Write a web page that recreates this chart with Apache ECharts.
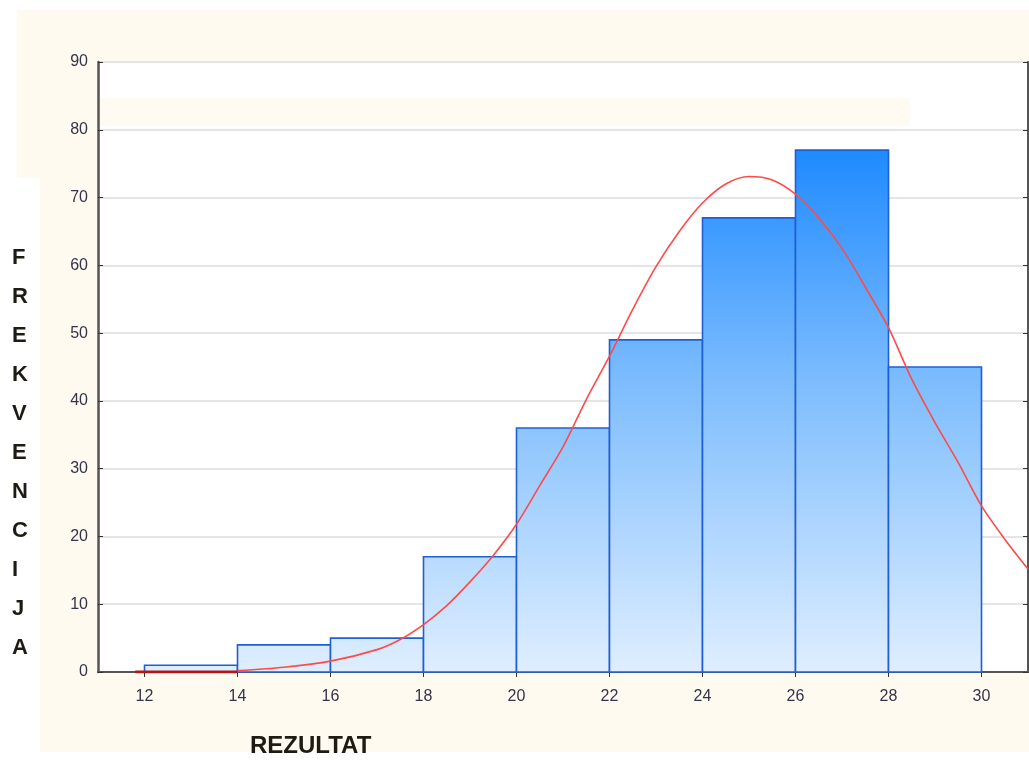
<!DOCTYPE html>
<html>
<head>
<meta charset="utf-8">
<style>
  html, body { margin: 0; padding: 0; background: #fff; }
  #chart { width: 1029px; height: 763px; }
</style>
<script src="https://cdn.jsdelivr.net/npm/echarts@6/dist/echarts.min.js"></script>
</head>
<body>
<div id="chart"></div>
<script>
// ===== Histogram data =====
const binStart = [12, 14, 16, 18, 20, 22, 24, 26, 28];
const binEnd   = [14, 16, 18, 20, 22, 24, 26, 28, 30];
const counts   = [1, 4, 5, 17, 36, 49, 67, 77, 45];

// fitted curve
const curveX = [14, 15, 16, 17, 17.5, 18, 18.5, 19, 19.5, 20, 20.5, 21, 21.5, 22, 22.5, 23,
                23.5, 24, 24.5, 25, 25.5, 26, 26.5, 27, 27.5, 28, 28.5, 29, 29.5, 30, 30.5, 31];
const curveY = [0.2, 0.7, 1.6, 3.3, 4.8, 7.0, 9.8, 13.3, 17.2, 21.8, 27.5, 33.2, 40.2, 46.6, 53.5, 59.8,
                65.0, 69.2, 72.0, 73.1, 72.6, 70.5, 67.0, 62.5, 56.8, 50.8, 43.2, 36.8, 30.9, 24.5, 19.6, 15.2];
const tailX = [11.8, 14];
const tailY = [0, 0];

const xTicks = [12, 14, 16, 18, 20, 22, 24, 26, 28, 30];
const yName = ['F', 'R', 'E', 'K', 'V', 'E', 'N', 'C', 'I', 'J', 'A'];

function zip(a, b) {
  return a.map((v, i) => [v, b[i]]);
}

const chart = echarts.init(document.getElementById('chart'));

const frame = { lineStyle: { color: '#555', width: 2 } };
const labelStyle = { color: '#34344a', fontSize: 16, fontFamily: 'Liberation Sans, Arial, sans-serif' };

const barFill = new echarts.graphic.LinearGradient(0, 140, 0, 672, [
  { offset: 0, color: '#1b88ff' },
  { offset: 0.45, color: '#7cbcfd' },
  { offset: 1, color: '#dfeeff' }
], true);

const option = {
  backgroundColor: '#fff',
  animation: false,
  graphic: [
    { type: 'rect', z: -10, shape: { x: 17, y: 10, width: 1012, height: 168 }, style: { fill: '#fffaf0' } },
    { type: 'rect', z: -10, shape: { x: 40, y: 178, width: 989, height: 574 }, style: { fill: '#fffaf0' } },
    { type: 'rect', z: 1, shape: { x: 100, y: 98, width: 810, height: 28 }, style: { fill: '#fffbf3' } },
    {
      type: 'text', left: 12, top: 238,
      style: {
        text: yName.join('\n'), fill: '#1e1a14', lineHeight: 39, align: 'center',
        font: 'bold 22px "Liberation Sans", Arial, sans-serif', width: 26
      }
    },
    {
      type: 'text', left: 250, top: 734,
      style: { text: 'REZULTAT', fill: '#1e1a14', font: 'bold 24px "Liberation Sans", Arial, sans-serif' }
    }
  ],
  grid: { left: 98, right: 1, top: 62, bottom: 91, show: true, backgroundColor: '#fff', borderWidth: 0 },
  xAxis: [
    {
      type: 'value', min: 11, max: 31, position: 'bottom',
      axisLine: frame,
      axisTick: { inside: true, length: 5, customValues: xTicks, lineStyle: { color: '#333' } },
      axisLabel: Object.assign({ margin: 17, customValues: xTicks }, labelStyle),
      splitLine: { show: false }
    },
    {
      type: 'value', min: 11, max: 31, position: 'top',
      axisLine: frame,
      axisTick: { inside: true, length: 5, customValues: xTicks, lineStyle: { color: '#333' } },
      axisLabel: { show: false },
      splitLine: { show: false }
    }
  ],
  yAxis: [
    {
      type: 'value', min: 0, max: 90, interval: 10, position: 'left',
      axisLine: { show: true, lineStyle: { color: '#555', width: 2.5 } },
      axisTick: { show: true, inside: true, length: 5, lineStyle: { color: '#333' } },
      axisLabel: Object.assign({ margin: 10 }, labelStyle),
      splitLine: { lineStyle: { color: '#dcdcdc', width: 1.5 } }
    },
    {
      type: 'value', min: 0, max: 90, interval: 10, position: 'right',
      axisLine: { show: true, lineStyle: { color: '#555', width: 2 } },
      axisTick: { show: true, inside: true, length: 5, lineStyle: { color: '#333' } },
      axisLabel: { show: false },
      splitLine: { show: false }
    }
  ],
  series: [
    {
      type: 'custom',
      data: binStart.map((s, i) => [s, binEnd[i], counts[i]]),
      renderItem: function (params, api) {
        const p0 = api.coord([api.value(0), 0]);
        const p1 = api.coord([api.value(1), api.value(2)]);
        return {
          type: 'rect',
          shape: { x: p0[0], y: p1[1], width: p1[0] - p0[0], height: p0[1] - p1[1] },
          style: { fill: barFill, stroke: '#1f5fd4', lineWidth: 1.6 }
        };
      },
      z: 2
    },
    {
      type: 'line',
      data: zip(tailX, tailY),
      showSymbol: false,
      lineStyle: { color: '#b01818', width: 3 },
      z: 3
    },
    {
      type: 'line',
      data: zip(curveX, curveY),
      smooth: 0.3,
      showSymbol: false,
      lineStyle: { color: '#ff4a4a', width: 1.6 },
      z: 4
    }
  ]
};

chart.setOption(option);
</script>
</body>
</html>
